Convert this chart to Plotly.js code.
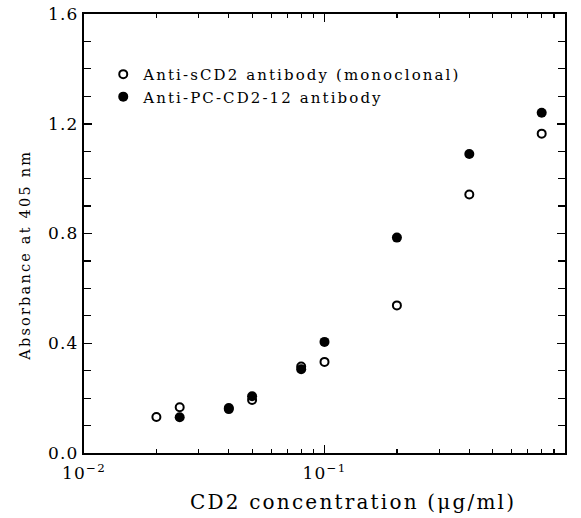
<!DOCTYPE html>
<html><head><meta charset="utf-8">
<script src="https://cdn.plot.ly/plotly-3.0.1.min.js"></script>
<style>body{margin:0;background:#fff}#chart{width:581px;height:518px}text{letter-spacing:1.2px}text.annotation-text{letter-spacing:2.2px}text.legendtext{letter-spacing:2.1px}</style>
</head><body><div id="chart"></div>
<script>
const seriesNames = ["Anti-sCD2 antibody (monoclonal)", "Anti-PC-CD2-12 antibody"];
const concOpen = [0.02, 0.025, 0.04, 0.05, 0.08, 0.1, 0.2, 0.4, 0.8];
const absOpen = [0.131, 0.167, 0.16, 0.193, 0.315, 0.332, 0.538, 0.942, 1.164];
const concFilled = [0.025, 0.04, 0.05, 0.08, 0.1, 0.2, 0.4, 0.8];
const absFilled = [0.13, 0.164, 0.207, 0.305, 0.405, 0.785, 1.09, 1.24];
const xTickVals = [0.01, 0.1, 1];
const xTickText = ["10<sup>\u22122</sup>", "10<sup>\u22121</sup>", "10<sup>0</sup>"];
const xMinorVals = [0.02, 0.03, 0.04, 0.05, 0.06, 0.07, 0.08, 0.09, 0.2, 0.3, 0.4, 0.5, 0.6, 0.7, 0.8, 0.9];
const yTickVals = [0, 0.4, 0.8, 1.2, 1.6];
const xTitle = "CD2 concentration (\u03bcg/ml)";
const yTitle = "Absorbance at 405 nm";

const fam = "DejaVu Serif, Liberation Serif, serif";

const traces = [
  {x: concOpen, y: absOpen, name: seriesNames[0], mode: "markers", type: "scatter",
   marker: {symbol: "circle-open", size: 8, color: "#000", line: {width: 2, color: "#000"}}},
  {x: concFilled, y: absFilled, name: seriesNames[1], mode: "markers", type: "scatter",
   marker: {symbol: "circle", size: 10, color: "#000"}}
];

const layout = {
  width: 581, height: 518,
  margin: {l: 84, r: 16, t: 14, b: 65},
  paper_bgcolor: "#fff", plot_bgcolor: "#fff",
  font: {family: fam, color: "#000", size: 15},
  showlegend: true,
  legend: {x: 0.04, y: 0.90, xanchor: "left", yanchor: "top", bgcolor: "rgba(0,0,0,0)",
           font: {family: fam, size: 15, color: "#000"}, tracegroupgap: 0, itemwidth: 30},
  xaxis: {
    type: "log", range: [-2, 0], showgrid: false, zeroline: false,
    showline: true, linecolor: "#000", linewidth: 2, mirror: "allticks",
    ticks: "inside", ticklen: 8, tickwidth: 1.5, tickcolor: "#000",
    tickvals: xTickVals, ticktext: xTickText, ticklabelstandoff: 4,
    tickfont: {family: fam, size: 17, color: "#000"},
    minor: {ticks: "inside", ticklen: 4, tickwidth: 1.2, tickcolor: "#000", showgrid: false,
            tickmode: "array", tickvals: xMinorVals}
  },
  yaxis: {
    range: [0, 1.6], showgrid: false, zeroline: false,
    showline: true, linecolor: "#000", linewidth: 2, mirror: "allticks",
    ticks: "inside", ticklen: 8, tickwidth: 1.5, tickcolor: "#000",
    tickvals: yTickVals, tickformat: ".1f",
    tickfont: {family: fam, size: 17, color: "#000"},
    minor: {ticks: "inside", ticklen: 7, tickwidth: 1.2, tickcolor: "#000", dtick: 0.1, showgrid: false}
  },
  annotations: [
    {text: xTitle, xref: "paper", yref: "paper", x: 0.559, y: -0.112, xanchor: "center", yanchor: "middle",
     showarrow: false, font: {family: fam, size: 20, color: "#000"}},
    {text: yTitle, xref: "paper", yref: "paper", x: -0.122, y: 0.45, xanchor: "center", yanchor: "middle",
     textangle: -90, showarrow: false, font: {family: fam, size: 14.5, color: "#000"}}
  ]
};

Plotly.newPlot("chart", traces, layout, {staticPlot: true, displayModeBar: false});
</script></body></html>
